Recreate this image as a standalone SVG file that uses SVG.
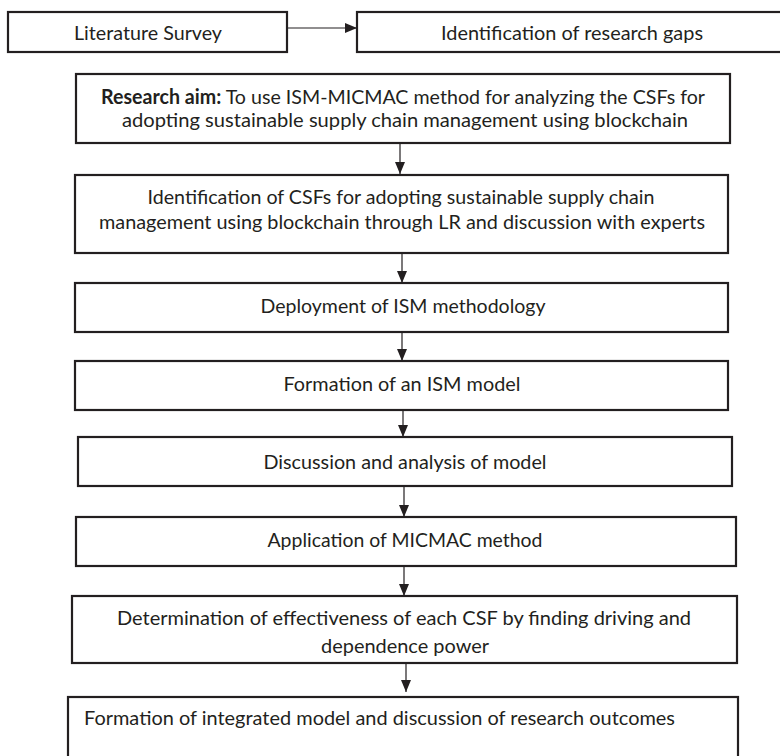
<svg xmlns="http://www.w3.org/2000/svg" width="780" height="756" viewBox="0 0 780 756">
  <style>
    .box { fill: #ffffff; stroke: #231f20; stroke-width: 2.2; }
    .t { font-family: Lato, "Open Sans", "Liberation Sans", sans-serif; font-size: 20px; fill: #231f20; text-anchor: middle; }
    .tl { text-anchor: start; }
    .b { font-weight: bold; }
    .conn { stroke: #231f20; stroke-width: 1.2; fill: none; }
  </style>
  <defs>
    <marker id="arrow" viewBox="0 0 12 10" refX="12" refY="5" markerWidth="12" markerHeight="10" markerUnits="userSpaceOnUse" orient="auto">
      <path d="M0,0 L12,5 L0,10 z" fill="#231f20"/>
    </marker>
  </defs>
  <rect width="780" height="756" fill="#ffffff"/>

  <g id="connectors">
    <path class="conn" d="M287,28 H357" marker-end="url(#arrow)"/>
    <path class="conn" d="M400,144 V174" marker-end="url(#arrow)"/>
    <path class="conn" d="M402,254 V283" marker-end="url(#arrow)"/>
    <path class="conn" d="M402,333 V361" marker-end="url(#arrow)"/>
    <path class="conn" d="M403,411 V437" marker-end="url(#arrow)"/>
    <path class="conn" d="M404,487 V517" marker-end="url(#arrow)"/>
    <path class="conn" d="M404,567 V596" marker-end="url(#arrow)"/>
    <path class="conn" d="M406,664 V692" marker-end="url(#arrow)"/>
  </g>

  <g id="literature-survey">
    <rect class="box" x="8" y="12" width="279" height="40"/>
    <text class="t" x="148" y="40" textLength="148" lengthAdjust="spacingAndGlyphs">Literature Survey</text>
  </g>

  <g id="research-gaps">
    <rect class="box" x="357" y="12" width="430" height="40"/>
    <text class="t" x="572" y="40" textLength="262" lengthAdjust="spacingAndGlyphs">Identification of research gaps</text>
  </g>

  <g id="research-aim">
    <rect class="box" x="76" y="74" width="654" height="69"/>
    <text class="t" x="403" y="104" textLength="604" lengthAdjust="spacingAndGlyphs"><tspan class="b">Research aim:</tspan> To use ISM-MICMAC method for analyzing the CSFs for</text>
    <text class="t" x="405" y="127" textLength="566" lengthAdjust="spacingAndGlyphs">adopting sustainable supply chain management using blockchain</text>
  </g>

  <g id="identification-csfs">
    <rect class="box" x="75" y="175" width="653" height="78"/>
    <text class="t" x="401" y="204" textLength="507" lengthAdjust="spacingAndGlyphs">Identification of CSFs for adopting sustainable supply chain</text>
    <text class="t" x="402" y="229" textLength="606" lengthAdjust="spacingAndGlyphs">management using blockchain through LR and discussion with experts</text>
  </g>

  <g id="deployment-ism">
    <rect class="box" x="75" y="283" width="653" height="49"/>
    <text class="t" x="403" y="313" textLength="285" lengthAdjust="spacingAndGlyphs">Deployment of ISM methodology</text>
  </g>

  <g id="formation-ism">
    <rect class="box" x="75" y="361" width="653" height="49"/>
    <text class="t" x="402" y="391" textLength="237" lengthAdjust="spacingAndGlyphs">Formation of an ISM model</text>
  </g>

  <g id="discussion-analysis">
    <rect class="box" x="78" y="437" width="654" height="49"/>
    <text class="t" x="405" y="469" textLength="283" lengthAdjust="spacingAndGlyphs">Discussion and analysis of model</text>
  </g>

  <g id="application-micmac">
    <rect class="box" x="76" y="517" width="660" height="49"/>
    <text class="t" x="405" y="547" textLength="275" lengthAdjust="spacingAndGlyphs">Application of MICMAC method</text>
  </g>

  <g id="determination">
    <rect class="box" x="72" y="596" width="665" height="67"/>
    <text class="t" x="404" y="625" textLength="574" lengthAdjust="spacingAndGlyphs">Determination of effectiveness of each CSF by finding driving and</text>
    <text class="t" x="405" y="653" textLength="168" lengthAdjust="spacingAndGlyphs">dependence power</text>
  </g>

  <g id="integrated-model">
    <rect class="box" x="68" y="697" width="670" height="64"/>
    <text class="t tl" x="84" y="725" textLength="591" lengthAdjust="spacingAndGlyphs">Formation of integrated model and discussion of research outcomes</text>
  </g>
</svg>
